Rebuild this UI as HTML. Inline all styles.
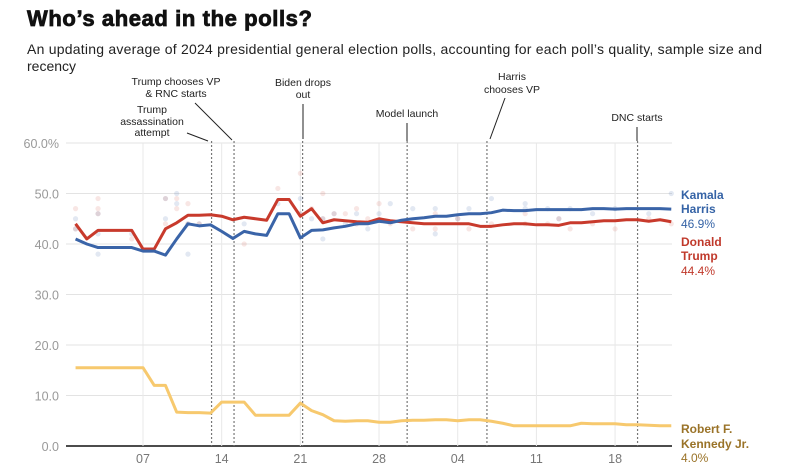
<!DOCTYPE html>
<html><head><meta charset="utf-8"><style>
body{margin:0;background:#fff;width:797px;height:472px;overflow:hidden;font-family:"Liberation Sans",sans-serif;}
svg{position:absolute;left:0;top:0}
</style></head><body>
<svg id="c" width="797" height="472">
<text x="27" y="26" font-size="22" font-weight="900" fill="#111" stroke="#111" stroke-width="0.8" letter-spacing="0.6">Who’s ahead in the polls?</text>
<text x="27" y="54" font-size="14" fill="#222" textLength="735">An updating average of 2024 presidential general election polls, accounting for each poll’s quality, sample size and</text>
<text x="27" y="71" font-size="14" fill="#222">recency</text>
<g id="grid"></g><g id="ann"></g><g id="dots"></g><g id="lines"></g><g id="labels"></g>
</svg>
<script>
const days=[1,2,3,4,5,6,7,8,9,10,11,12,13,14,15,16,17,18,19,20,21,22,23,24,25,26,27,28,29,30,31,32,33,34,35,36,37,38,39,40,41,42,43,44,45,46,47,48,49,50,51,52,53,54];
const harris=[41,40,39.3,39.3,39.3,39.3,38.6,38.6,37.8,41,44,43.6,43.8,42.5,41.1,42.5,42,41.7,46,46,41.2,42.7,42.8,43.2,43.5,44,44,44.5,44.2,44.7,45,45.2,45.5,45.5,45.8,46,46,46.2,46.7,46.6,46.6,46.8,46.8,46.8,46.8,46.8,47,47,46.9,47,47,47,47,46.9];
const trump=[44,41,42.7,42.7,42.7,42.7,39,39,43,44.2,45.7,45.7,45.8,45.5,44.8,45.3,45,44.7,48.8,48.8,45.5,47,44.2,44.8,44.6,44.4,44.3,45,44.6,44.4,44.2,44,44,44,44,44,43.5,43.5,43.8,44,44,43.8,43.8,43.7,44.2,44.2,44.4,44.6,44.6,44.8,44.8,44.5,44.8,44.4];
const rfk=[15.5,15.5,15.5,15.5,15.5,15.5,15.5,12,12,6.7,6.6,6.6,6.5,8.7,8.7,8.7,6.1,6.1,6.1,6.1,8.5,7,6.2,5,4.9,5,5,4.7,4.7,5,5.1,5.1,5.2,5.2,5,5.2,5.2,4.9,4.5,4,4,4,4,4,4,4.5,4.4,4.4,4.4,4.2,4.2,4.1,4,4];
const yTicks=[0,10,20,30,40,50,60];
const yTickLabels=["0.0","10.0","20.0","30.0","40.0","50.0","60.0%"];
const xTickDays=[7,14,21,28,35,42,49];
const xTickLabels=["07","14","21","28","04","11","18"];
const eventDays=[13.1,15.1,21.2,30.5,37.6,51];
const pollDays=[1,1,3,3,3,6,9,9,10,10,11,11,12,16,19,21,21,22,23,23,24,25,26,26,27,28,29,31,33,33,35,36,38,41,41,43,44,45,47,49,52,54];
const pollHarris=[45,43,38,46,42,42,49,45,50,48,44,38,44,44,48,49,46,45,45,41,46,44,46,44,43,46,48,47,47,42,45,47,49,48,47,47,45,47,46,47,46,50];
const pollTrump=[47,43,49,46,47,41,49,44,49,47,48,44,44,40,51,54,46,47,50,45,46,46,44,47,45,48,44,43,43,46,45,43,44,46,44,44,45,43,44,43,45,44];
const ns="http://www.w3.org/2000/svg";
const X=d=>143+(d-7)*11.24, Y=v=>446-5.05*v;
function mk(p,t,a){const e=document.createElementNS(ns,t);for(const k in a)e.setAttribute(k,a[k]);p.appendChild(e);return e;}
const G=document.getElementById('grid'),A=document.getElementById('ann'),D=document.getElementById('dots'),L=document.getElementById('lines'),LB=document.getElementById('labels');
yTicks.forEach((v,i)=>{
 const l=mk(G,'line',{x1:66,x2:672,y1:Y(v),y2:Y(v),stroke:v==0?'#111':'#e3e3e3','stroke-width':v==0?1.5:1});
 
 
 const t=mk(G,'text',{x:59,y:Y(v)+5,'text-anchor':'end','font-size':12.5,fill:'#999'});t.textContent=yTickLabels[i];
 
 
});
xTickDays.forEach((d,i)=>{
 const l=mk(G,'line',{x1:X(d),x2:X(d),y1:143,y2:446,stroke:'#e8e8e8'});
 
 
 const t=mk(G,'text',{x:X(d),y:463,'text-anchor':'middle','font-size':12.5,fill:'#777'});t.textContent=xTickLabels[i];
 
 
});
eventDays.forEach(d=>{
 const l=mk(A,'line',{x1:X(d),x2:X(d),y1:141,y2:446,stroke:'#777','stroke-dasharray':'2,2','stroke-width':1.2});
 
 
});
const anns=[[152,[113,125,136],["Trump","assassination","attempt"],[187,133,208,141]],[176,[85,97],["Trump chooses VP","& RNC starts"],[195,103,232,140]],[303,[86,98],["Biden drops","out"],[303,104,303,139]],[407,[117],["Model launch"],[407,123,407,141]],[512,[80,93],["Harris","chooses VP"],[505,98,490,139]],[637,[121],["DNC starts"],[637,127,637,141]]];
anns.forEach(a=>{
 a[2].forEach((s,i)=>{const t=mk(A,'text',{x:a[0],y:a[1][i],'text-anchor':'middle','font-size':10.5,fill:'#222'});t.textContent=s;
 
 });
 const l=mk(A,'line',{x1:a[3][0],y1:a[3][1],x2:a[3][2],y2:a[3][3],stroke:'#222','stroke-width':1});
 
 
});
pollDays.forEach((d,i)=>{
 const c1=mk(D,'circle',{cx:X(d),cy:Y(pollHarris[i]),r:2.6,fill:'#3a64a8',opacity:0.15});
 
 
 const c2=mk(D,'circle',{cx:X(d),cy:Y(pollTrump[i]),r:2.6,fill:'#c83a2c',opacity:0.13});
 
 
});
function line(arr,col,name){const p=mk(L,'polyline',{points:days.map((d,i)=>X(d)+','+Y(arr[i])).join(' '),fill:'none',stroke:col,'stroke-width':3,'stroke-linejoin':'round'});
 
 }
line(rfk,'#f7c96e','rfk-line');line(trump,'#c83a2c','trump-line');line(harris,'#3a64a8','harris-line');
const labs=[["Kamala",199,'#3563a6',1],["Harris",213,'#3563a6',1],["46.9%",228,'#3563a6',0],["Donald",246,'#c0392b',1],["Trump",260,'#c0392b',1],["44.4%",275,'#c0392b',0],["Robert F.",433,'#9a7328',1],["Kennedy Jr.",448,'#9a7328',1],["4.0%",462,'#9a7328',0]];
labs.forEach(l=>{const t=mk(LB,'text',{x:681,y:l[1],'font-size':12,fill:l[2],'font-weight':l[3]?'bold':'normal'});t.textContent=l[0];
 
 });
</script>
</body></html>
